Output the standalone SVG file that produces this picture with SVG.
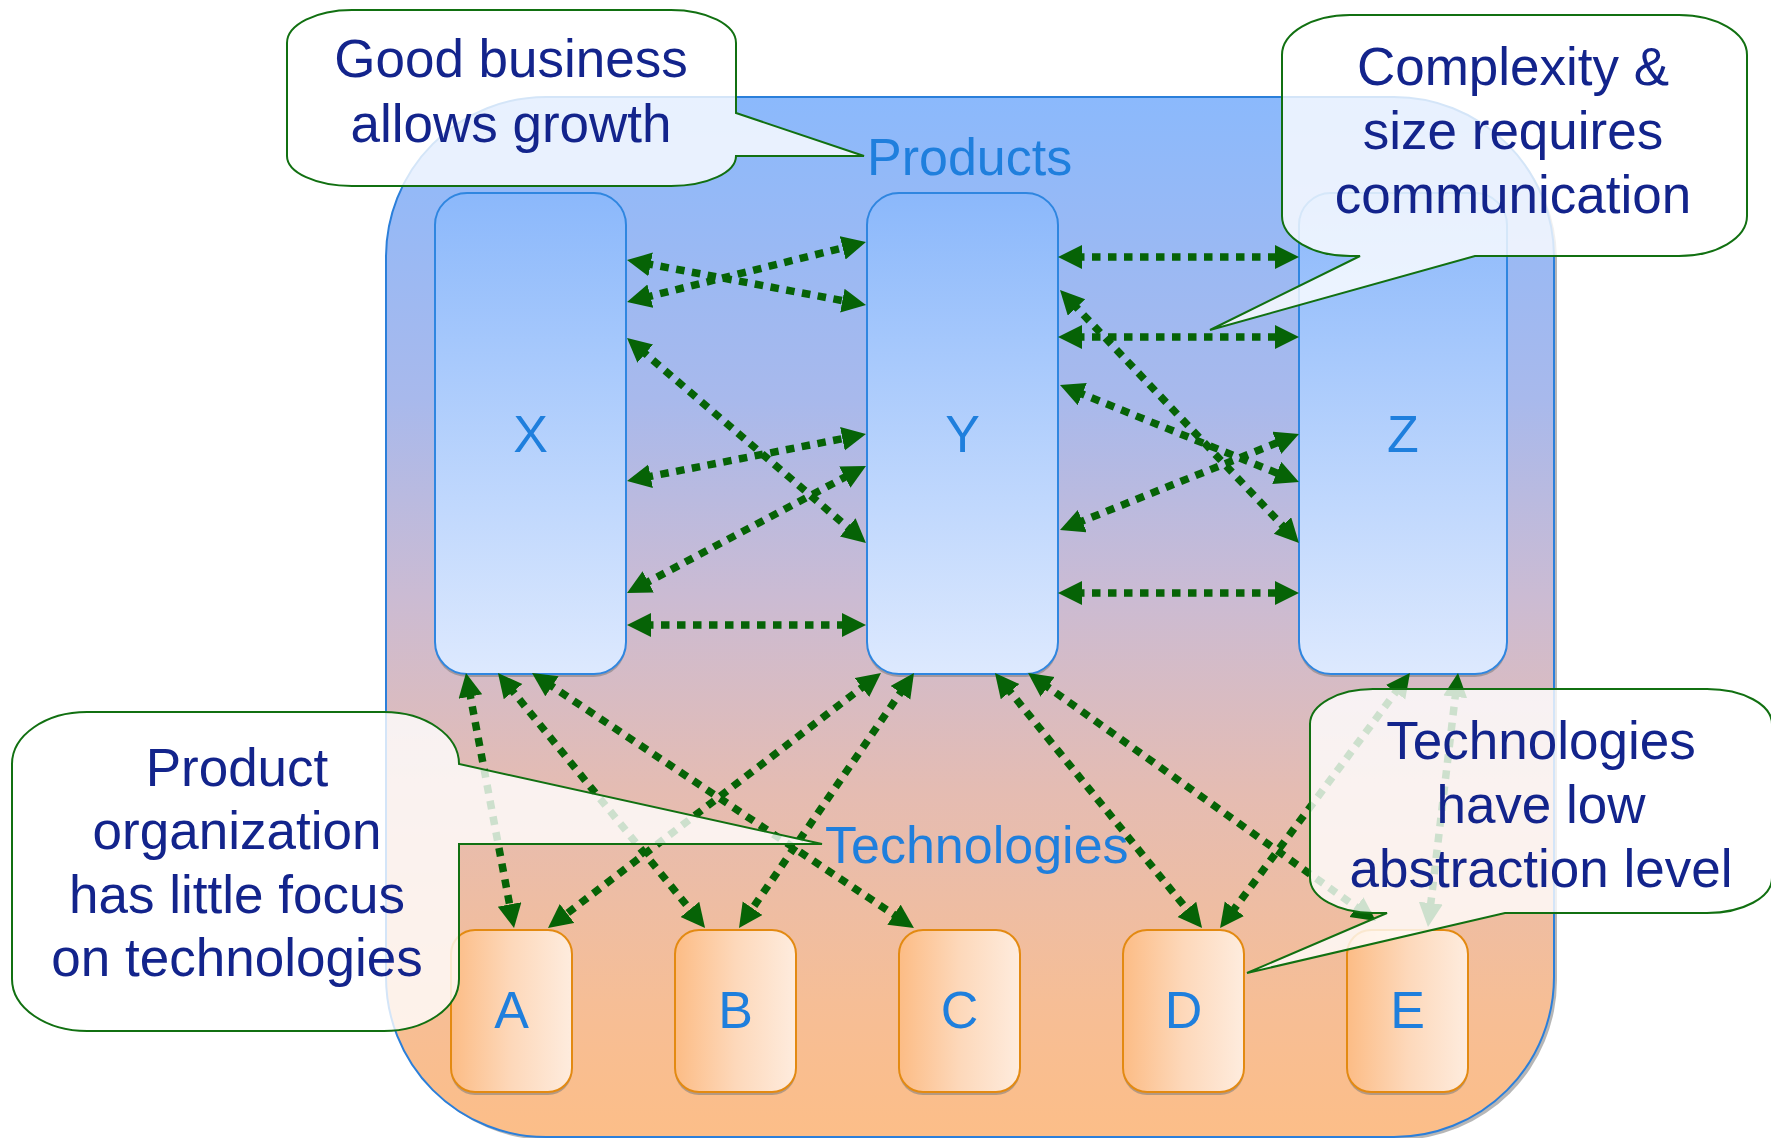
<svg xmlns="http://www.w3.org/2000/svg" width="1771" height="1138" viewBox="0 0 1771 1138">
<defs>
<linearGradient id="gCont" x1="0" y1="0" x2="0" y2="1">
<stop offset="0" stop-color="#8BB9FC"/>
<stop offset="0.29" stop-color="#A8B9EC"/>
<stop offset="0.48" stop-color="#CBBBD3"/>
<stop offset="0.67" stop-color="#E5BCB2"/>
<stop offset="0.87" stop-color="#F6BE96"/>
<stop offset="1" stop-color="#FCBE88"/>
</linearGradient>
<linearGradient id="gProd" x1="0" y1="0" x2="0" y2="1">
<stop offset="0" stop-color="#8BB8FB"/>
<stop offset="1" stop-color="#DDE9FE"/>
</linearGradient>
<linearGradient id="gTech" x1="0" y1="0" x2="1" y2="0">
<stop offset="0" stop-color="#FCBC85"/>
<stop offset="0.5" stop-color="#FDD8BA"/>
<stop offset="1" stop-color="#FEECDE"/>
</linearGradient>
<marker id="ah" markerUnits="userSpaceOnUse" markerWidth="26" markerHeight="26" refX="6" refY="12" orient="auto-start-reverse">
<path d="M0,0 L24,12 L0,24 Z" fill="#066306"/>
</marker>
</defs>
<style>
.cont{fill:url(#gCont);stroke:#2B7FDA;stroke-width:2}
.prod{fill:url(#gProd);stroke:#2F86E0;stroke-width:2}
.tech{fill:url(#gTech);stroke:#E38A12;stroke-width:2}
.shadow{fill:#7a7a7a;opacity:0.55}
.lbl{font-family:"Liberation Sans",Arial,sans-serif;font-size:52px;fill:#1F7FDD}
.mid{text-anchor:middle}
.con{fill:none;stroke:#066306;stroke-width:7.5;stroke-dasharray:8.5 7.5;marker-start:url(#ah);marker-end:url(#ah)}
.call{fill:#ffffff;fill-opacity:0.8;stroke:#117011;stroke-width:2}
.ctxt{font-family:"Liberation Sans",Arial,sans-serif;font-size:53px;fill:#13248C;text-anchor:middle}
</style>

<g id="container">
<rect x="389" y="100" width="1168" height="1040" rx="160" ry="160" class="shadow" opacity="0.35"/>
<rect x="386" y="97" width="1168" height="1040" rx="160" ry="160" class="cont"/>
<text x="867" y="175" class="lbl">Products</text>
<text x="825" y="863" class="lbl">Technologies</text>
</g>

<g id="node-X">
<rect x="435" y="196" width="191" height="481" rx="32" class="shadow"/>
<rect x="435" y="193" width="191" height="481" rx="32" class="prod"/>
<text x="530.5" y="452" class="lbl mid">X</text>
</g>
<g id="node-Y">
<rect x="867" y="196" width="191" height="481" rx="32" class="shadow"/>
<rect x="867" y="193" width="191" height="481" rx="32" class="prod"/>
<text x="962.5" y="452" class="lbl mid">Y</text>
</g>
<g id="node-Z">
<rect x="1299" y="196" width="208" height="481" rx="32" class="shadow"/>
<rect x="1299" y="193" width="208" height="481" rx="32" class="prod"/>
<text x="1403" y="452" class="lbl mid">Z</text>
</g>

<g id="node-A">
<rect x="451" y="933" width="121" height="162" rx="24" class="shadow"/>
<rect x="451" y="930" width="121" height="162" rx="24" class="tech"/>
<text x="511.5" y="1028" class="lbl mid">A</text>
</g>
<g id="node-B">
<rect x="675" y="933" width="121" height="162" rx="24" class="shadow"/>
<rect x="675" y="930" width="121" height="162" rx="24" class="tech"/>
<text x="735.5" y="1028" class="lbl mid">B</text>
</g>
<g id="node-C">
<rect x="899" y="933" width="121" height="162" rx="24" class="shadow"/>
<rect x="899" y="930" width="121" height="162" rx="24" class="tech"/>
<text x="959.5" y="1028" class="lbl mid">C</text>
</g>
<g id="node-D">
<rect x="1123" y="933" width="121" height="162" rx="24" class="shadow"/>
<rect x="1123" y="930" width="121" height="162" rx="24" class="tech"/>
<text x="1183.5" y="1028" class="lbl mid">D</text>
</g>
<g id="node-E">
<rect x="1347" y="933" width="121" height="162" rx="24" class="shadow"/>
<rect x="1347" y="930" width="121" height="162" rx="24" class="tech"/>
<text x="1407.5" y="1028" class="lbl mid">E</text>
</g>

<g id="connectors">
<line class="con" x1="644.7" y1="263.3" x2="848.3" y2="301.7"/>
<line class="con" x1="644.5" y1="297.6" x2="848.5" y2="246.4"/>
<line class="con" x1="640.7" y1="349.7" x2="852.3" y2="531.3"/>
<line class="con" x1="644.7" y1="477.5" x2="848.3" y2="437.5"/>
<line class="con" x1="642.9" y1="584.6" x2="850.1" y2="474.4"/>
<line class="con" x1="645" y1="625" x2="848" y2="625"/>
<line class="con" x1="1076" y1="257" x2="1281" y2="257"/>
<line class="con" x1="1076" y1="337" x2="1281" y2="337"/>
<line class="con" x1="1072.4" y1="303.1" x2="1286.6" y2="529.9"/>
<line class="con" x1="1076.7" y1="391.8" x2="1282.3" y2="475.2"/>
<line class="con" x1="1076.7" y1="523.3" x2="1282.3" y2="440.7"/>
<line class="con" x1="1076" y1="593" x2="1281" y2="593"/>
<line class="con" x1="469.3" y1="690.7" x2="510.7" y2="910.3"/>
<line class="con" x1="509.3" y1="687" x2="693.7" y2="914"/>
<line class="con" x1="547" y1="683" x2="899" y2="918"/>
<line class="con" x1="866.7" y1="683.9" x2="562.3" y2="917.1"/>
<line class="con" x1="903.8" y1="687.8" x2="749.2" y2="913.2"/>
<line class="con" x1="1006.3" y1="687" x2="1190.7" y2="914"/>
<line class="con" x1="1042.7" y1="683.4" x2="1361.3" y2="910.6"/>
<line class="con" x1="1399.2" y1="687.4" x2="1230.8" y2="913.6"/>
<line class="con" x1="1455.9" y1="690.9" x2="1430.1" y2="909.1"/>
</g>

<g id="callout-growth">
<path class="call" d="M352,10 H671 A65 33 0 0 1 736,43 V113 L864,156 L736,156 A65 30 0 0 1 671,186 H352 A65 30 0 0 1 287,156 V43 A65 33 0 0 1 352,10 Z"/>
<text class="ctxt" x="511" y="77">Good business</text>
<text class="ctxt" x="511" y="142">allows growth</text>
</g>
<g id="callout-complexity">
<path class="call" d="M1350,15 H1679 A68 40 0 0 1 1747,55 V216 A68 40 0 0 1 1679,256 H1475 L1210,330 L1360,256 H1350 A68 40 0 0 1 1282,216 V55 A68 40 0 0 1 1350,15 Z"/>
<text class="ctxt" x="1513" y="85">Complexity &amp;</text>
<text class="ctxt" x="1513" y="149">size requires</text>
<text class="ctxt" x="1513" y="213">communication</text>
</g>
<g id="callout-product-org">
<path class="call" d="M87,712 H384 A75 52 0 0 1 459,764 L822,844 L459,844 V979 A75 52 0 0 1 384,1031 H87 A75 52 0 0 1 12,979 V764 A75 52 0 0 1 87,712 Z"/>
<text class="ctxt" x="237" y="786">Product</text>
<text class="ctxt" x="237" y="849">organization</text>
<text class="ctxt" x="237" y="913">has little focus</text>
<text class="ctxt" x="237" y="976">on technologies</text>
</g>
<g id="callout-abstraction">
<path class="call" d="M1373,689 H1707 A65 35 0 0 1 1772,724 V878 A65 35 0 0 1 1707,913 H1505 L1247,973 L1387,913 H1373 A63 35 0 0 1 1310,878 V724 A63 35 0 0 1 1373,689 Z"/>
<text class="ctxt" x="1541" y="759">Technologies</text>
<text class="ctxt" x="1541" y="823">have low</text>
<text class="ctxt" x="1541" y="887">abstraction level</text>
</g>
</svg>
